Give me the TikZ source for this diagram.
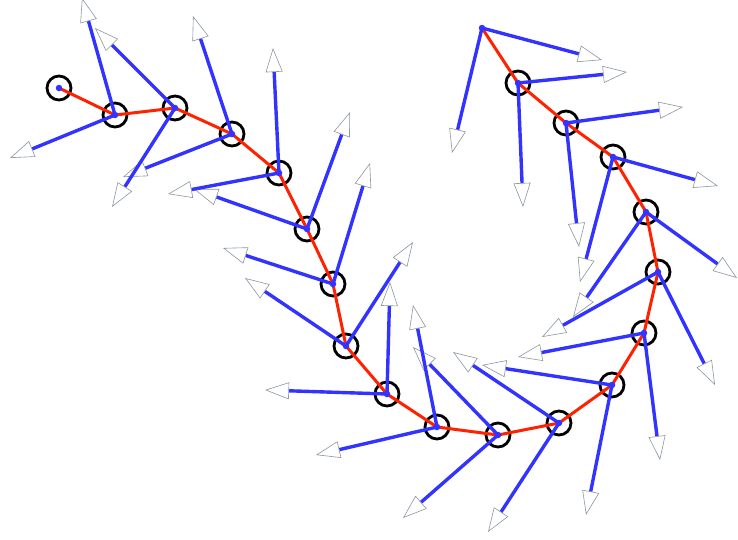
\documentclass[tikz,border=0pt]{standalone}
\usetikzlibrary{arrows.meta}
\definecolor{bl}{RGB}{51,51,255}
\definecolor{rd}{RGB}{255,34,0}
\definecolor{headline}{RGB}{140,150,160}
\begin{document}
\begin{tikzpicture}[x=1pt,y=-1pt,
  ring/.style={circle,draw=black,line width=2.8pt,minimum size=24pt,inner sep=0pt},
  anchorpt/.style={circle,inner sep=0pt,minimum size=0pt},
  dot/.style={circle,fill=bl,inner sep=0pt,minimum size=6.5pt},
  redline/.style={draw=rd,line width=3pt,line join=round},
  vec/.style={draw=bl,line width=3.4pt,
    -{Triangle[length=24pt,width=17pt,fill=white,color=headline,line width=0.6pt]}}]
\useasboundingbox (0,0) rectangle (738,539);
% chain points
\node[anchorpt] (p1) at (482,28) {};
\foreach \i/\x/\y in {2/518/83,3/566/123,4/613/157,5/646/212,6/658/272,7/644/333,
  8/612/385,9/559/423,10/498/435,11/437/427,12/387/394,13/346/346,14/333/284,
  15/307/229,16/279/173,17/232/134,18/175/108,19/115/115,20/59/88}
  {\node[ring] (p\i) at (\x,\y) {};}
% red chain
\draw[redline] (p1.center) -- (p2.center) -- (p3.center) -- (p4.center) -- (p5.center)
  -- (p6.center) -- (p7.center) -- (p8.center) -- (p9.center) -- (p10.center)
  -- (p11.center) -- (p12.center) -- (p13.center) -- (p14.center) -- (p15.center)
  -- (p16.center) -- (p17.center) -- (p18.center) -- (p19.center) -- (p20.center);
% vectors
\foreach \i/\ax/\ay/\bx/\by in {1/602/60/452/153, 2/627/72/523/207, 3/683/107/579/247,
  4/718/186/580/282, 5/737/278/573/317, 6/542/337/715/385, 7/518/357/660/460,
  8/482/365/586/515, 9/453/352/488/532, 10/413/347/403/518, 11/413/305/316/455,
  12/390/282/265/390, 13/413/242/245/278, 14/370/163/223/248, 15/350/112/194/189,
  16/273/48/168/194, 17/193/16/123/177, 18/95/28/112/207, 19/82/-2/10/158}
  {\coordinate (a\i) at (\ax,\ay);
   \coordinate (b\i) at (\bx,\by);
   \draw[vec] (p\i.center) -- (a\i);
   \draw[vec] (p\i.center) -- (b\i);}
% blue dots
\foreach \i in {1,...,20} {\node[dot] (d\i) at (p\i.center) {};}
\end{tikzpicture}
\end{document}
